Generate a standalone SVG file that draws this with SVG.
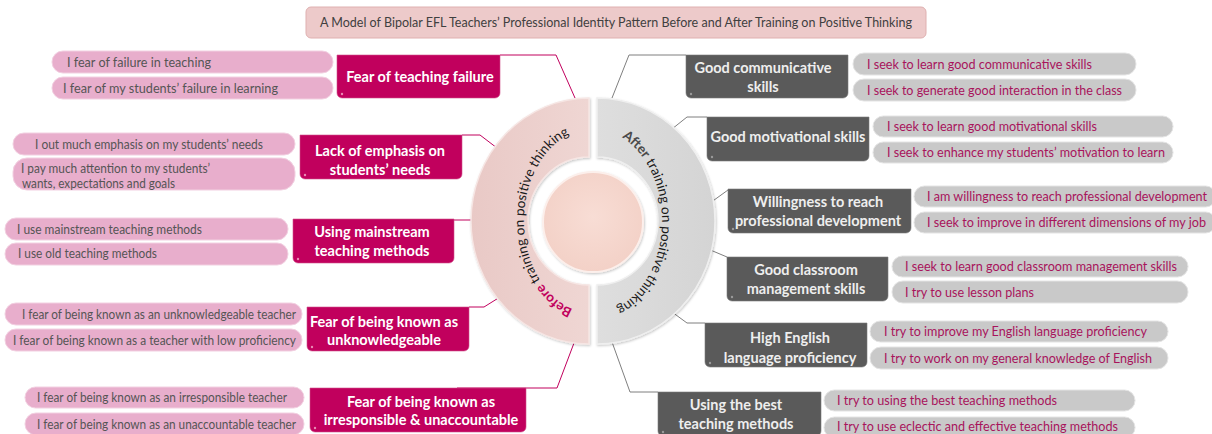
<svg xmlns="http://www.w3.org/2000/svg" width="1212" height="434" viewBox="0 0 1212 434">
  <defs>
    <style>
      text { font-family: "Lato", "Liberation Sans", sans-serif; }
      .title { font-size: 12.8px; fill: #404040; }
      .lbl-l { font-size: 14.5px; font-weight: bold; fill: #ffffff; text-anchor: middle; }
      .lbl-r { font-size: 14.5px; font-weight: bold; fill: #eeeeee; text-anchor: middle; }
      .pill-l { fill: #e8aecc; stroke: #f2d0e1; stroke-width: 1; }
      .pill-r { fill: #c9c9c9; stroke: #e4e4e4; stroke-width: 1; }
      .txt-l { font-size: 12.6px; fill: #555555; }
      .txt-r { font-size: 12.6px; fill: #a8145c; }
      .box-l { fill: #c1005d; stroke: #d0508a; stroke-width: 0.6; }
      .box-r { fill: #5a5a5a; stroke: #7a7a7a; stroke-width: 0.6; }
      .dot-l { fill: #e98ab5; }
      .dot-r { fill: #9a9a9a; }
      .link-l { fill: none; stroke: #c1005d; stroke-width: 1; }
      .link-r { fill: none; stroke: #7f7f7f; stroke-width: 1; }
      .arc { font-size: 13.5px; fill: #1a1a1a; }
    </style>
    <filter id="soft" x="-10%" y="-10%" width="120%" height="125%">
      <feDropShadow dx="0.8" dy="1.2" stdDeviation="1" flood-color="#000000" flood-opacity="0.22"/>
    </filter>
    <radialGradient id="core" cx="50%" cy="45%" r="55%">
      <stop offset="0" stop-color="#f8ddd5"/>
      <stop offset="1" stop-color="#f3d1c7"/>
    </radialGradient>
    <linearGradient id="halfL" x1="0" y1="0" x2="1" y2="0">
      <stop offset="0" stop-color="#e9c9c6"/>
      <stop offset="1" stop-color="#efd6d3"/>
    </linearGradient>
    <linearGradient id="halfR" x1="0" y1="0" x2="1" y2="0">
      <stop offset="0" stop-color="#dedede"/>
      <stop offset="1" stop-color="#d4d4d4"/>
    </linearGradient>
    <!-- baselines for the curved captions -->
    <path id="arcBefore" d="M 572.8,309 A 69 92 0 0 1 569.4,134.5"/>
    <path id="arcAfter" d="M 621.1,137 A 69 92 0 0 1 615.5,308"/>
  </defs>

  <rect width="1212" height="434" fill="#ffffff"/>

  <!-- heading -->
  <g id="title">
    <rect x="306" y="7" width="620" height="31" rx="5" fill="#edcaca" stroke="#dfb0b0" stroke-width="1"/>
    <text class="title" x="320" y="27" textLength="592" lengthAdjust="spacingAndGlyphs">A Model of Bipolar EFL Teachers’ Professional Identity Pattern Before and After Training on Positive Thinking</text>
  </g>

  <!-- connectors -->
  <g id="connectors">
    <polyline class="link-l" points="500,55 556,55 575,98"/>
    <polyline class="link-l" points="462,135 480,135 497,148"/>
    <polyline class="link-l" points="454,220 476,220"/>
    <polyline class="link-l" points="469,307 484,307 500,297"/>
    <polyline class="link-l" points="457,388 557,388 574,343"/>
    <polyline class="link-r" points="686,55 629,55 612,98"/>
    <polyline class="link-r" points="707,117 687,117 672,129"/>
    <polyline class="link-r" points="728,190 710,203"/>
    <polyline class="link-r" points="727,257 708,249"/>
    <polyline class="link-r" points="705,323 687,323 672,312"/>
    <polyline class="link-r" points="658,392 630,392 612,342"/>
  </g>

  <!-- central hub -->
  <g id="hub">
    <path d="M 589,98 A 118 123 0 0 0 589,344 L 589,285 A 61 64 0 0 1 589,157 Z" fill="url(#halfL)" stroke="#f6e6e4" stroke-width="1.5" filter="url(#soft)"/>
    <path d="M 597,98 A 118 123 0 0 1 597,344 L 597,285 A 61 64 0 0 0 597,157 Z" fill="url(#halfR)" stroke="#efefef" stroke-width="1.5" filter="url(#soft)"/>
    <circle cx="593" cy="222" r="50" fill="url(#core)" stroke="#fcefeb" stroke-width="2" filter="url(#soft)"/>
    <text class="arc"><textPath href="#arcBefore" startOffset="50%" text-anchor="middle"><tspan font-weight="bold" fill="#c1005d">Before</tspan> training on positive thinking</textPath></text>
    <text class="arc"><textPath href="#arcAfter" startOffset="50%" text-anchor="middle"><tspan font-weight="bold" fill="#4a4a4a">After</tspan>  training on positive thinking</textPath></text>
  </g>

  <!-- before: fear of teaching failure -->
  <g id="fear-failure">
    <rect class="pill-l" x="52" y="51" width="281" height="22" rx="11"/>
    <text class="txt-l" x="67" y="66.5" textLength="144" lengthAdjust="spacingAndGlyphs">I fear of failure in teaching</text>
    <rect class="pill-l" x="52" y="77" width="281" height="22" rx="11"/>
    <text class="txt-l" x="63" y="92.5" textLength="215" lengthAdjust="spacingAndGlyphs">I fear of my students’ failure in learning</text>
    <path class="box-l" d="M337,55 H500 V93 A5 5 0 0 1 495,98 H342 A5 5 0 0 1 337,93 Z"/>
    <circle class="dot-l" cx="342" cy="94" r="1.2"/>
    <text class="lbl-l" x="420" y="82">Fear of teaching failure</text>
  </g>

  <!-- before: lack of emphasis on students' needs -->
  <g id="lack-emphasis">
    <rect class="pill-l" x="13" y="133" width="282" height="22" rx="11"/>
    <text class="txt-l" x="35" y="148.5" textLength="228" lengthAdjust="spacingAndGlyphs">I out much emphasis on my students’ needs</text>
    <rect class="pill-l" x="13" y="158" width="282" height="32" rx="14"/>
    <text class="txt-l" x="21" y="172.5" textLength="189" lengthAdjust="spacingAndGlyphs">I pay much attention to my students’</text>
    <text class="txt-l" x="22" y="187.5" textLength="153" lengthAdjust="spacingAndGlyphs">wants, expectations and goals</text>
    <path class="box-l" d="M300,135 H462 V174 A5 5 0 0 1 457,179 H305 A5 5 0 0 1 300,174 Z"/>
    <circle class="dot-l" cx="305" cy="175" r="1.2"/>
    <text class="lbl-l" x="380" y="156">Lack of emphasis on</text>
    <text class="lbl-l" x="380" y="174.5">students’ needs</text>
  </g>

  <!-- before: using mainstream teaching methods -->
  <g id="mainstream-methods">
    <rect class="pill-l" x="5" y="218" width="283" height="22" rx="11"/>
    <text class="txt-l" x="17" y="233.5" textLength="185" lengthAdjust="spacingAndGlyphs">I use mainstream teaching methods</text>
    <rect class="pill-l" x="5" y="243" width="283" height="22" rx="11"/>
    <text class="txt-l" x="18" y="258" textLength="139" lengthAdjust="spacingAndGlyphs">I use old teaching methods</text>
    <path class="box-l" d="M293,219 H454 V258 A5 5 0 0 1 449,263 H298 A5 5 0 0 1 293,258 Z"/>
    <circle class="dot-l" cx="298" cy="259" r="1.2"/>
    <text class="lbl-l" x="372" y="237">Using mainstream</text>
    <text class="lbl-l" x="372" y="256">teaching methods</text>
  </g>

  <!-- before: fear of being known as unknowledgeable -->
  <g id="fear-unknowledgeable">
    <rect class="pill-l" x="5" y="303" width="297" height="22" rx="11"/>
    <text class="txt-l" x="22" y="318.5" textLength="274" lengthAdjust="spacingAndGlyphs">I fear of being known as an unknowledgeable teacher</text>
    <rect class="pill-l" x="5" y="329" width="297" height="22" rx="11"/>
    <text class="txt-l" x="13" y="344.5" textLength="283" lengthAdjust="spacingAndGlyphs">I fear of being known as a teacher with low proficiency</text>
    <path class="box-l" d="M307,307 H469 V346 A5 5 0 0 1 464,351 H312 A5 5 0 0 1 307,346 Z"/>
    <circle class="dot-l" cx="312" cy="347" r="1.2"/>
    <text class="lbl-l" x="384" y="327">Fear of being known as</text>
    <text class="lbl-l" x="384" y="345">unknowledgeable</text>
  </g>

  <!-- before: fear of being known as irresponsible -->
  <g id="fear-irresponsible">
    <rect class="pill-l" x="25" y="387" width="279" height="21" rx="10.5"/>
    <text class="txt-l" x="37" y="402" textLength="250" lengthAdjust="spacingAndGlyphs">I fear of being known as an irresponsible teacher</text>
    <rect class="pill-l" x="25" y="413" width="279" height="22" rx="11"/>
    <text class="txt-l" x="37" y="428.5" textLength="259" lengthAdjust="spacingAndGlyphs">I fear of being known as an unaccountable teacher</text>
    <path class="box-l" d="M310,388 H526 V427 A5 5 0 0 1 521,432 H315 A5 5 0 0 1 310,427 Z"/>
    <circle class="dot-l" cx="315" cy="428" r="1.2"/>
    <text class="lbl-l" x="421" y="407">Fear of being known as</text>
    <text class="lbl-l" x="421" y="425">irresponsible &amp; unaccountable</text>
  </g>

  <!-- after: good communicative skills -->
  <g id="communicative-skills">
    <path class="box-r" d="M686,55 H848 V93 A5 5 0 0 1 843,98 H691 A5 5 0 0 1 686,93 Z"/>
    <circle class="dot-r" cx="691" cy="94" r="1.2"/>
    <text class="lbl-r" x="763" y="73">Good communicative</text>
    <text class="lbl-r" x="763" y="92">skills</text>
    <rect class="pill-r" x="853" y="53" width="283" height="22" rx="11"/>
    <text class="txt-r" x="867" y="68.5" textLength="225" lengthAdjust="spacingAndGlyphs">I seek to learn good communicative skills</text>
    <rect class="pill-r" x="853" y="79" width="283" height="22" rx="11"/>
    <text class="txt-r" x="867" y="94.5" textLength="255" lengthAdjust="spacingAndGlyphs">I seek to generate good interaction in the class</text>
  </g>

  <!-- after: good motivational skills -->
  <g id="motivational-skills">
    <path class="box-r" d="M707,117 H869 V156 A5 5 0 0 1 864,161 H712 A5 5 0 0 1 707,156 Z"/>
    <circle class="dot-r" cx="712" cy="157" r="1.2"/>
    <text class="lbl-r" x="788" y="142">Good motivational skills</text>
    <rect class="pill-r" x="873" y="116" width="300" height="21" rx="10.5"/>
    <text class="txt-r" x="887" y="131" textLength="210" lengthAdjust="spacingAndGlyphs">I seek to learn good motivational skills</text>
    <rect class="pill-r" x="873" y="142" width="300" height="21" rx="10.5"/>
    <text class="txt-r" x="887" y="157" textLength="278" lengthAdjust="spacingAndGlyphs">I seek to enhance my students’ motivation to learn</text>
  </g>

  <!-- after: willingness to reach professional development -->
  <g id="professional-development">
    <path class="box-r" d="M728,189 H911 V228 A5 5 0 0 1 906,233 H733 A5 5 0 0 1 728,228 Z"/>
    <circle class="dot-r" cx="733" cy="229" r="1.2"/>
    <text class="lbl-r" x="818" y="207">Willingness to reach</text>
    <text class="lbl-r" x="818" y="226">professional development</text>
    <rect class="pill-r" x="914" y="186" width="302" height="21" rx="10.5"/>
    <text class="txt-r" x="927" y="201" textLength="280" lengthAdjust="spacingAndGlyphs">I am willingness to reach professional development</text>
    <rect class="pill-r" x="914" y="212" width="302" height="21" rx="10.5"/>
    <text class="txt-r" x="927" y="227" textLength="279" lengthAdjust="spacingAndGlyphs">I seek to improve in different dimensions of my job</text>
  </g>

  <!-- after: good classroom management skills -->
  <g id="classroom-management">
    <path class="box-r" d="M727,257 H888 V296 A5 5 0 0 1 883,301 H732 A5 5 0 0 1 727,296 Z"/>
    <circle class="dot-r" cx="732" cy="297" r="1.2"/>
    <text class="lbl-r" x="806" y="275">Good classroom</text>
    <text class="lbl-r" x="806" y="294">management skills</text>
    <rect class="pill-r" x="892" y="256" width="296" height="21" rx="10.5"/>
    <text class="txt-r" x="905" y="271" textLength="272" lengthAdjust="spacingAndGlyphs">I seek to learn good classroom management skills</text>
    <rect class="pill-r" x="892" y="281" width="296" height="22" rx="11"/>
    <text class="txt-r" x="905" y="296.5" textLength="129" lengthAdjust="spacingAndGlyphs">I try to use lesson plans</text>
  </g>

  <!-- after: high English language proficiency -->
  <g id="english-proficiency">
    <path class="box-r" d="M705,323 H867 V362 A5 5 0 0 1 862,367 H710 A5 5 0 0 1 705,362 Z"/>
    <circle class="dot-r" cx="710" cy="363" r="1.2"/>
    <text class="lbl-r" x="790" y="343">High English</text>
    <text class="lbl-r" x="790" y="363">language proficiency</text>
    <rect class="pill-r" x="870" y="321" width="298" height="21" rx="10.5"/>
    <text class="txt-r" x="884" y="336" textLength="263" lengthAdjust="spacingAndGlyphs">I try to improve my English language proficiency</text>
    <rect class="pill-r" x="870" y="347" width="298" height="22" rx="11"/>
    <text class="txt-r" x="884" y="362.5" textLength="268" lengthAdjust="spacingAndGlyphs">I try to work on my general knowledge of English</text>
  </g>

  <!-- after: using the best teaching methods -->
  <g id="best-methods">
    <path class="box-r" d="M658,392 H821 V431 A5 5 0 0 1 816,436 H663 A5 5 0 0 1 658,431 Z"/>
    <circle class="dot-r" cx="663" cy="432" r="1.2"/>
    <text class="lbl-r" x="736" y="410">Using the best</text>
    <text class="lbl-r" x="736" y="429">teaching methods</text>
    <rect class="pill-r" x="824" y="390" width="311" height="21" rx="10.5"/>
    <text class="txt-r" x="837" y="405" textLength="220" lengthAdjust="spacingAndGlyphs">I try to using the best teaching methods</text>
    <rect class="pill-r" x="824" y="417" width="311" height="21" rx="10.5"/>
    <text class="txt-r" x="837" y="431" textLength="281" lengthAdjust="spacingAndGlyphs">I try to use eclectic and effective teaching methods</text>
  </g>
</svg>
